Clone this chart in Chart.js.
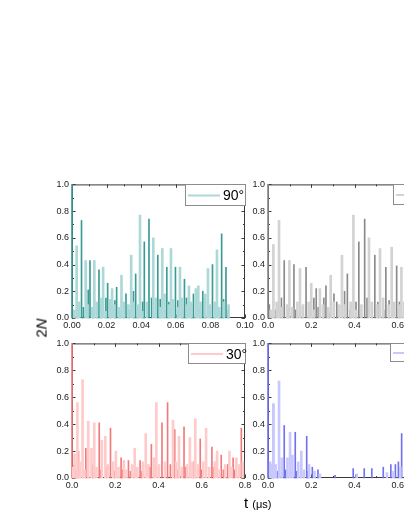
<!DOCTYPE html>
<html>
<head>
<meta charset="utf-8">
<script src="https://cdn.jsdelivr.net/npm/chart.js@4.4.1/dist/chart.umd.min.js"></script>
<style>
body{margin:0;width:404px;height:523px;overflow:hidden;background:#fff;position:relative;font-family:"Liberation Sans",Arial,sans-serif}
canvas{position:absolute}
#ytitle{position:absolute;left:41px;top:328px;transform:translate(-50%,-50%) rotate(-90deg);font-size:15px;white-space:nowrap}
#xtitle{position:absolute;left:244px;top:494px;font-size:15px;white-space:nowrap}
#xtitle span{font-size:11px}
</style>
</head>
<body>
<canvas id="p90" width="217" height="156" style="left:40px;top:176px"></canvas>
<canvas id="p60" width="217" height="156" style="left:236px;top:176px"></canvas>
<canvas id="p30" width="217" height="157" style="left:40px;top:335px"></canvas>
<canvas id="p0" width="217" height="157" style="left:236px;top:335px"></canvas>
<div id="ytitle">2<i>N</i></div>
<div id="xtitle">t <span>(μs)</span></div>
<script>
// 90 deg panel (teal)
const t90L = [0.0013,0.0027,0.0042,0.0079,0.0090,0.0117,0.0129,0.0143,0.0168,0.0180,0.0194,0.0220,0.0232,0.0245,0.0272,0.0286,0.0300,0.0326,0.0342,0.0354,0.0380,0.0393,0.0406,0.0432,0.0470,0.0484,0.0510,0.0522,0.0535,0.0560,0.0572,0.0586,0.0611,0.0624,0.0637,0.0663,0.0676,0.0689,0.0716,0.0730,0.0743,0.0770,0.0786,0.0799,0.0825,0.0838,0.0851,0.0878,0.0905];
const n90L = [0.06,0.54,0.12,0.43,0.10,0.08,0.43,0.12,0.15,0.38,0.05,0.14,0.22,0.10,0.08,0.32,0.12,0.10,0.47,0.12,0.10,0.77,0.05,0.12,0.60,0.15,0.08,0.52,0.18,0.10,0.52,0.14,0.08,0.38,0.15,0.10,0.24,0.12,0.22,0.24,0.12,0.18,0.37,0.10,0.12,0.51,0.08,0.12,0.10];
const t90D = [0.0000,0.0035,0.0055,0.0066,0.0094,0.0104,0.0120,0.0146,0.0156,0.0170,0.0196,0.0206,0.0222,0.0248,0.0258,0.0275,0.0300,0.0312,0.0328,0.0355,0.0368,0.0380,0.0408,0.0418,0.0445,0.0460,0.0496,0.0510,0.0536,0.0548,0.0560,0.0598,0.0612,0.0638,0.0650,0.0662,0.0690,0.0702,0.0716,0.0742,0.0756,0.0770,0.0798,0.0812,0.0826,0.0852,0.0865,0.0876,0.0890,0.0903];
const n90D = [1.00,0.05,0.73,0.08,0.21,0.43,0.06,0.10,0.36,0.05,0.15,0.26,0.08,0.13,0.23,0.05,0.10,0.18,0.06,0.20,0.33,0.04,0.12,0.57,0.74,0.15,0.47,0.14,0.06,0.38,0.12,0.38,0.13,0.06,0.29,0.15,0.10,0.18,0.14,0.08,0.20,0.12,0.06,0.40,0.08,0.05,0.63,0.14,0.38,0.06];

// 60 deg panel (grey)
const t60L = [0.012,0.025,0.040,0.051,0.063,0.088,0.099,0.112,0.136,0.148,0.162,0.188,0.200,0.212,0.240,0.254,0.278,0.290,0.304,0.330,0.342,0.356,0.382,0.395,0.408,0.432,0.467,0.480,0.505,0.518,0.532,0.558,0.572,0.584,0.606,0.617,0.630,0.645];
const n60L = [0.06,0.55,0.12,0.73,0.08,0.10,0.43,0.08,0.12,0.37,0.10,0.12,0.26,0.06,0.22,0.10,0.08,0.32,0.12,0.10,0.47,0.10,0.12,0.77,0.06,0.10,0.60,0.12,0.10,0.52,0.15,0.10,0.53,0.12,0.10,0.38,0.12,0.10];
const t60D = [0.000,0.006,0.035,0.062,0.075,0.092,0.120,0.128,0.160,0.176,0.192,0.212,0.223,0.232,0.258,0.268,0.282,0.305,0.318,0.354,0.367,0.380,0.407,0.420,0.447,0.458,0.482,0.494,0.508,0.535,0.545,0.560,0.595,0.608,0.635,0.650];
const n60D = [1.00,0.10,0.06,0.15,0.43,0.08,0.40,0.06,0.08,0.38,0.05,0.15,0.22,0.08,0.15,0.24,0.04,0.18,0.12,0.20,0.33,0.06,0.12,0.57,0.74,0.15,0.08,0.47,0.12,0.06,0.38,0.13,0.39,0.12,0.08,0.28];

// 30 deg panel (red)
const t30L = [0.006,0.012,0.025,0.036,0.049,0.058,0.075,0.090,0.103,0.113,0.138,0.154,0.166,0.190,0.203,0.215,0.240,0.252,0.278,0.290,0.302,0.328,0.341,0.353,0.378,0.390,0.402,0.430,0.467,0.482,0.495,0.508,0.532,0.545,0.557,0.570,0.582,0.607,0.620,0.634,0.660,0.671,0.683,0.708,0.728,0.738,0.760,0.772,0.790];
const n30L = [0.08,0.18,0.56,0.12,0.73,0.06,0.42,0.22,0.41,0.08,0.28,0.31,0.10,0.12,0.20,0.08,0.13,0.06,0.10,0.22,0.08,0.12,0.33,0.10,0.15,0.56,0.10,0.12,0.43,0.12,0.31,0.08,0.10,0.30,0.12,0.44,0.10,0.12,0.37,0.08,0.12,0.20,0.06,0.10,0.20,0.08,0.15,0.10,0.12];
const t30D = [0.000,0.018,0.030,0.064,0.075,0.096,0.126,0.132,0.160,0.178,0.196,0.227,0.233,0.261,0.270,0.315,0.322,0.360,0.367,0.416,0.442,0.455,0.475,0.490,0.518,0.525,0.563,0.593,0.600,0.647,0.655,0.690,0.700,0.720,0.745,0.752,0.783];
const n30D = [1.00,0.06,0.20,0.22,0.42,0.10,0.41,0.06,0.08,0.37,0.05,0.15,0.06,0.13,0.05,0.13,0.05,0.08,0.25,0.41,0.56,0.10,0.36,0.06,0.38,0.08,0.12,0.29,0.06,0.23,0.08,0.17,0.06,0.10,0.15,0.06,0.37];

// 0 deg panel (blue)
const t0L = [0.010,0.018,0.025,0.035,0.051,0.063,0.090,0.102,0.113,0.140,0.154,0.166,0.190,0.215,0.240,0.410,0.550,0.580,0.612];
const n0L = [0.12,0.10,0.55,0.10,0.72,0.15,0.15,0.34,0.17,0.12,0.20,0.06,0.10,0.05,0.03,0.03,0.04,0.05,0.08];
const t0D = [0.000,0.025,0.044,0.075,0.082,0.126,0.132,0.179,0.186,0.205,0.231,0.310,0.394,0.445,0.480,0.533,0.568,0.589,0.603,0.618];
const n0D = [1.00,0.55,0.05,0.39,0.06,0.34,0.05,0.31,0.05,0.08,0.06,0.02,0.07,0.07,0.07,0.08,0.10,0.10,0.12,0.33];

const tickFont = {family: '"Liberation Sans", Arial, sans-serif', size: 9};

function pts(t, n) {
  return t.map((x, i) => ({x: x, y: n[i]}));
}

function framePlugin(xStep, label, light, legX, legW, legH) {
  return {
    id: 'frame',
    beforeDatasetsDraw(chart) {
      const ctx = chart.ctx, a = chart.chartArea, x = chart.scales.x, y = chart.scales.y;
      ctx.save();
      ctx.strokeStyle = '#3a3a3a';
      ctx.lineWidth = 1;
      ctx.strokeRect(a.left + 0.5, a.top + 0.5, a.right - a.left - 1, a.bottom - a.top - 1);
      ctx.beginPath();
      for (let i = 0; i <= 10; i++) {
        const py = Math.round(y.getPixelForValue(i / 10)) + 0.5;
        const len = i % 2 ? 2 : 3.5;
        ctx.moveTo(a.left, py); ctx.lineTo(a.left + len, py);
        ctx.moveTo(a.right, py); ctx.lineTo(a.right - len, py);
      }
      const n = Math.round(x.max / (xStep / 2));
      for (let i = 0; i <= n; i++) {
        const px = Math.round(x.getPixelForValue(i * xStep / 2)) + 0.5;
        const len = i % 2 ? 2 : 3.5;
        ctx.moveTo(px, a.bottom); ctx.lineTo(px, a.bottom - len);
        ctx.moveTo(px, a.top); ctx.lineTo(px, a.top + len);
      }
      ctx.stroke();
      ctx.restore();
    },
    afterDraw(chart) {
      const ctx = chart.ctx, a = chart.chartArea;
      const bx = Math.round(a.left + legX), by = Math.round(a.top);
      ctx.save();
      ctx.fillStyle = '#fff';
      ctx.fillRect(bx, by, legW, legH);
      ctx.strokeStyle = '#8c8c8c';
      ctx.lineWidth = 1;
      ctx.strokeRect(bx + 0.5, by + 0.5, legW, legH);
      ctx.strokeStyle = light;
      ctx.lineWidth = 2;
      ctx.beginPath();
      ctx.moveTo(bx + 3, by + legH / 2 + 1);
      ctx.lineTo(bx + 35, by + legH / 2 + 1);
      ctx.stroke();
      ctx.fillStyle = '#000';
      ctx.font = '14px "Liberation Sans", Arial, sans-serif';
      ctx.textBaseline = 'middle';
      ctx.fillText(label, bx + 38, by + legH / 2 + 2);
      ctx.restore();
    }
  };
}

function panel(id, tL, nL, tD, nD, light, dark, xMax, xStep, digits, label, legX, legW, legH) {
  new Chart(document.getElementById(id), {
    type: 'bar',
    data: {
      datasets: [
        {data: pts(tL, nL), backgroundColor: light, barThickness: 2, grouped: false, clip: false},
        {data: pts(tD, nD), backgroundColor: dark, barThickness: 1, grouped: false, clip: false}
      ]
    },
    options: {
      responsive: false,
      animation: false,
      events: [],
      layout: {padding: {top: 8, right: 12, left: 0, bottom: 0}},
      plugins: {legend: {display: false}, tooltip: {enabled: false}},
      scales: {
        x: {
          type: 'linear', min: 0, max: xMax, offset: false,
          ticks: {stepSize: xStep, callback: v => v.toFixed(digits), font: tickFont, color: '#222', padding: 2, maxRotation: 0, autoSkip: false},
          grid: {display: false, drawTicks: false},
          border: {display: false},
          afterFit: s => { s.height = 14; }
        },
        y: {
          min: 0, max: 1,
          ticks: {stepSize: 0.2, callback: v => v.toFixed(1), font: tickFont, color: '#222', padding: 3},
          grid: {display: false, drawTicks: false},
          border: {display: false},
          afterFit: s => { s.width = 32; }
        }
      }
    },
    plugins: [framePlugin(xStep, label, light, legX, legW, legH)]
  });
}

panel('p90', t90L, n90L, t90D, n90D, '#acd9d7', '#3a9a94', 0.1, 0.02, 2, '90°', 113, 60, 21);
panel('p60', t60L, n60L, t60D, n60D, '#d2d2d2', '#8a8a8a', 0.8, 0.2, 1, '60°', 125, 48, 20);
panel('p30', t30L, n30L, t30D, n30D, '#ffcaca', '#f07a7a', 0.8, 0.2, 1, '30°', 116, 57, 20);
panel('p0', t0L, n0L, t0D, n0D, '#c8c8ff', '#7272f0', 0.8, 0.2, 1, '0°', 122, 51, 18);
</script>
</body>
</html>
